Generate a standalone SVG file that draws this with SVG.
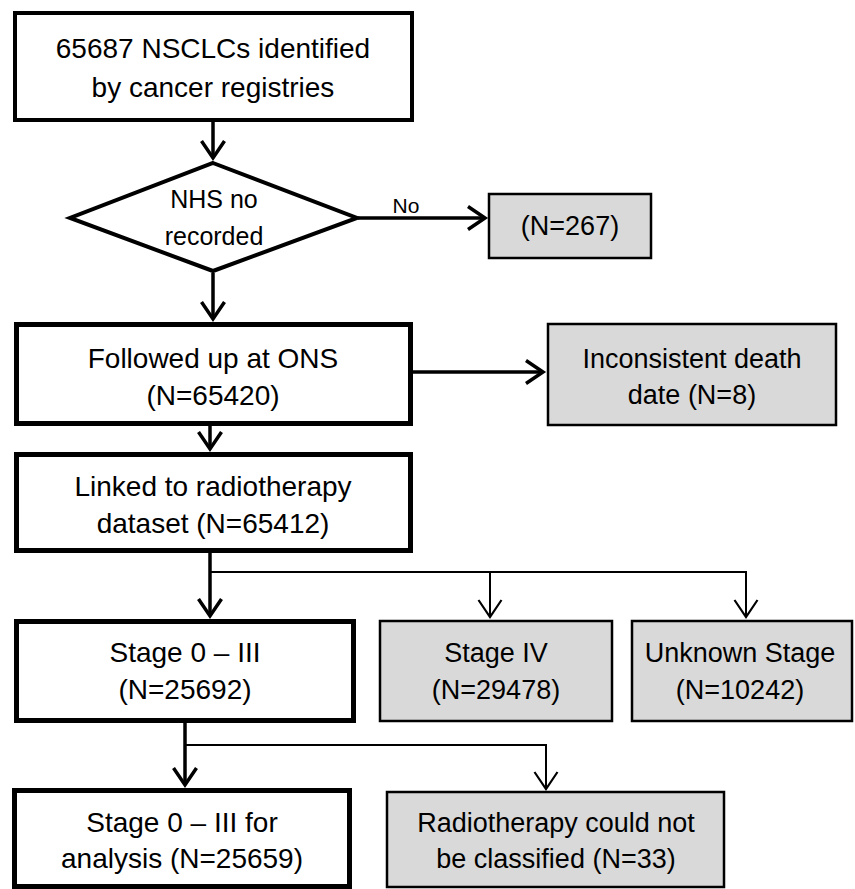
<svg xmlns="http://www.w3.org/2000/svg" width="855" height="889" viewBox="0 0 855 889">
<style>
  .main { fill: #ffffff; stroke: #000000; stroke-width: 5; }
  .excl { fill: #d9d9d9; stroke: #000000; stroke-width: 2.5; }
  text { font-family: "Liberation Sans", Arial, sans-serif; fill: #000000; text-anchor: middle; }
  .t28 { font-size: 28px; }
  .t27 { font-size: 27px; }
  .t25 { font-size: 25px; }
  .thick { fill: none; stroke: #000000; stroke-width: 3.5; }
  .thin { fill: none; stroke: #000000; stroke-width: 2; }
</style>
<defs>
  <marker id="ahThick" markerUnits="userSpaceOnUse" markerWidth="30" markerHeight="30" viewBox="-20 -15 24 30" refX="0" refY="0" orient="auto">
    <path d="M-17,-11.5 L0,0 L-17,11.5" fill="none" stroke="#000" stroke-width="3.5" stroke-linejoin="miter"/>
  </marker>
  <marker id="ahThin" markerUnits="userSpaceOnUse" markerWidth="30" markerHeight="30" viewBox="-20 -15 24 30" refX="0" refY="0" orient="auto">
    <path d="M-17,-11.5 L0,0 L-17,11.5" fill="none" stroke="#000" stroke-width="2.2" stroke-linejoin="miter"/>
  </marker>
</defs>

<g id="connectors">
  <line class="thick" x1="213" y1="122" x2="213" y2="158" marker-end="url(#ahThick)"/>
  <line class="thick" x1="213" y1="273" x2="213" y2="319" marker-end="url(#ahThick)"/>
  <line class="thick" x1="358" y1="218" x2="485" y2="218" marker-end="url(#ahThick)"/>
  <line class="thick" x1="413" y1="372" x2="543" y2="372" marker-end="url(#ahThick)"/>
  <line class="thick" x1="210" y1="426" x2="210" y2="449" marker-end="url(#ahThick)"/>
  <line class="thick" x1="210" y1="553" x2="210" y2="616" marker-end="url(#ahThick)"/>
  <polyline class="thin" points="210,572 746,572 746,617" marker-end="url(#ahThin)"/>
  <line class="thin" x1="490" y1="572" x2="490" y2="617" marker-end="url(#ahThin)"/>
  <line class="thick" x1="185" y1="723" x2="185" y2="785" marker-end="url(#ahThick)"/>
  <polyline class="thin" points="185,745 546,745 546,789" marker-end="url(#ahThin)"/>
  <text class="t25" x="406" y="213" style="font-size:21px">No</text>
</g>

<g id="n_start">
  <rect class="main" x="15" y="13" width="397" height="107" style="stroke-width:4"/>
  <text class="t28" x="213" y="58">65687 NSCLCs identified</text>
  <text class="t28" x="213" y="97">by cancer registries</text>
</g>

<g id="n_nhs">
  <polygon points="213,163 357,218 213,271 70,218" fill="#ffffff" stroke="#000" stroke-width="4" stroke-linejoin="miter"/>
  <text class="t25" x="214" y="208">NHS no</text>
  <text class="t25" x="214" y="245">recorded</text>
</g>

<g id="n_267">
  <rect class="excl" x="489" y="194" width="162" height="64"/>
  <text class="t27" x="570" y="235">(N=267)</text>
</g>

<g id="n_ons">
  <rect class="main" x="16.5" y="324.5" width="394" height="99"/>
  <text class="t28" x="213" y="368">Followed up at ONS</text>
  <text class="t28" x="213" y="405">(N=65420)</text>
</g>

<g id="n_death">
  <rect class="excl" x="548" y="324" width="288" height="101"/>
  <text class="t27" x="692" y="368">Inconsistent death</text>
  <text class="t27" x="692" y="404">date (N=8)</text>
</g>

<g id="n_linked">
  <rect class="main" x="16.5" y="454.5" width="394" height="96"/>
  <text class="t28" x="213" y="496">Linked to radiotherapy</text>
  <text class="t28" x="213" y="533">dataset (N=65412)</text>
</g>

<g id="n_stage03">
  <rect class="main" x="16.5" y="621.5" width="337" height="99"/>
  <text class="t28" x="185" y="662">Stage 0 – III</text>
  <text class="t28" x="185" y="699">(N=25692)</text>
</g>

<g id="n_stage4">
  <rect class="excl" x="380" y="621" width="232" height="100"/>
  <text class="t27" x="496" y="662">Stage IV</text>
  <text class="t27" x="496" y="699">(N=29478)</text>
</g>

<g id="n_unknown">
  <rect class="excl" x="632" y="621" width="220" height="100"/>
  <text class="t27" x="740" y="662">Unknown Stage</text>
  <text class="t27" x="740" y="699">(N=10242)</text>
</g>

<g id="n_analysis">
  <rect class="main" x="14.5" y="790.5" width="335" height="96"/>
  <text class="t28" x="182" y="832">Stage 0 – III for</text>
  <text class="t28" x="182" y="868">analysis (N=25659)</text>
</g>

<g id="n_radio">
  <rect class="excl" x="387" y="792" width="337" height="95"/>
  <text class="t27" x="556" y="832">Radiotherapy could not</text>
  <text class="t27" x="556" y="868">be classified (N=33)</text>
</g>
</svg>
